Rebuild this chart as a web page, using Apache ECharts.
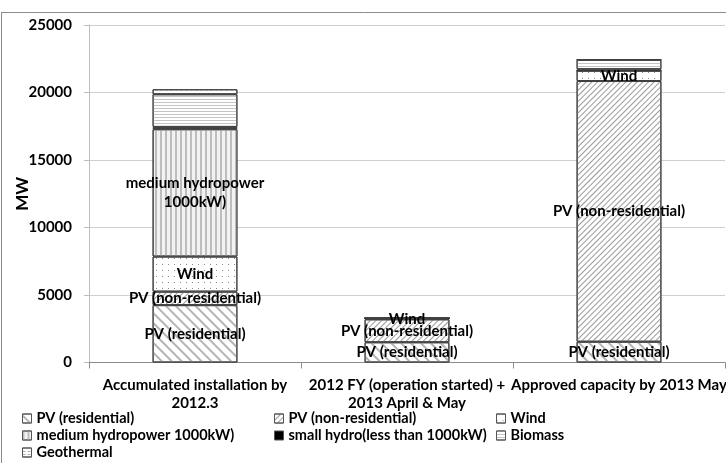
<!DOCTYPE html>
<html>
<head>
<meta charset="utf-8">
<script src="https://cdn.jsdelivr.net/npm/echarts@6/dist/echarts.min.js"></script>
<style>
  html, body { margin: 0; padding: 0; background: #fff; }
  #chart { width: 726px; height: 463px; }
</style>
</head>
<body>
<div id="chart"></div>
<script>
// Renewable capacity in Japan (MW), stacked by source
const categories = [
  'Accumulated installation by\n2012.3',
  '2012 FY (operation started) +\n2013 April & May',
  'Approved capacity by 2013 May'
];
const yTicks = [0, 5000, 10000, 15000, 20000, 25000];

const pvResidential    = [4250, 1500, 1540];
const pvNonResidential = [1000, 1700, 19310];
const wind             = [2600, 60, 770];
const mediumHydro      = [9430, 0, 0];
const smallHydro       = [170, 10, 100];
const biomass          = [2420, 30, 700];
const geothermal       = [370, 0, 20];

const FONT = 'Lato, "Open Sans", sans-serif';
const BORDER = '#404040';

function labelled(text) {
  return {
    show: true,
    position: 'inside',
    color: '#000',
    fontFamily: FONT,
    fontWeight: 'bold',
    fontSize: 15,
    lineHeight: 19,
    formatter: p => (p.value > 0 ? text : '')
  };
}

function barSeries(name, data, itemStyle, label) {
  return {
    name: name,
    type: 'bar',
    stack: 'total',
    barWidth: '40%',
    data: data,
    itemStyle: Object.assign({ borderColor: BORDER, borderWidth: 1 }, itemStyle),
    label: label || { show: false },
    emphasis: { disabled: true }
  };
}

const series = [
  barSeries('PV (residential)', pvResidential, {
    color: '#fff',
    decal: { symbol: 'rect', symbolSize: 1, color: '#b4b4b4',
             dashArrayX: [1, 0], dashArrayY: [2, 5], rotation: Math.PI / 4 }
  }, labelled('PV (residential)')),
  barSeries('PV (non-residential)', pvNonResidential, {
    color: '#fff',
    decal: { symbol: 'rect', symbolSize: 1, color: '#9a9a9a',
             dashArrayX: [1, 0], dashArrayY: [1, 3], rotation: -Math.PI / 4 }
  }, labelled('PV (non-residential)')),
  barSeries('Wind', wind, {
    color: '#fff',
    decal: { symbol: 'rect', symbolSize: 1, color: '#8a8a8a',
             dashArrayX: [1, 5], dashArrayY: [1, 5] }
  }, labelled('Wind')),
  barSeries('medium hydropower 1000kW)', mediumHydro, {
    color: '#f2f2f2',
    decal: { symbol: 'rect', symbolSize: 1, color: '#bdbdbd',
             dashArrayX: [2, 3], dashArrayY: [1, 0] }
  }, labelled('medium hydropower\n1000kW)')),
  barSeries('small hydro(less than 1000kW)', smallHydro, { color: '#000' }),
  barSeries('Biomass', biomass, {
    color: '#fff',
    decal: { symbol: 'rect', symbolSize: 1, color: '#c4c4c4',
             dashArrayX: [1, 0], dashArrayY: [1, 2] }
  }),
  barSeries('Geothermal', geothermal, {
    color: '#fff',
    decal: { symbol: 'rect', symbolSize: 1, color: '#b0b0b0',
             dashArrayX: [3, 2], dashArrayY: [1, 2] }
  })
];

// One legend entry per cell so the three columns line up like a table
const legendCols = [22, 274, 496];
const legendRows = [411, 428, 445];
const legendCells = [
  ['PV (residential)', 0, 0], ['PV (non-residential)', 1, 0], ['Wind', 2, 0],
  ['medium hydropower 1000kW)', 0, 1], ['small hydro(less than 1000kW)', 1, 1], ['Biomass', 2, 1],
  ['Geothermal', 0, 2]
];

function legendCell(cell) {
  return {
    left: legendCols[cell[1]],
    top: legendRows[cell[2]],
    padding: 0,
    itemWidth: 9,
    itemHeight: 9,
    itemTextGap: 2,
    selectedMode: false,
    icon: 'rect',
    itemStyle: { borderColor: '#555', borderWidth: 1 },
    textStyle: { fontFamily: FONT, fontWeight: 'bold', fontSize: 14.5,
                 color: '#000', lineHeight: 15 },
    data: [cell[0]]
  };
}

const chart = echarts.init(document.getElementById('chart'), null, { renderer: 'canvas' });
chart.setOption({
  animation: false,
  backgroundColor: '#fff',
  grid: { left: 89, right: 1, top: 25, bottom: 100.5, containLabel: false,
          outerBoundsMode: 'none' },
  xAxis: {
    type: 'category',
    data: categories,
    axisLine: { lineStyle: { color: '#8c8c8c', width: 1 } },
    axisTick: { show: true, length: 6, lineStyle: { color: '#8c8c8c' } },
    axisLabel: { color: '#000', fontFamily: FONT, fontWeight: 'bold', fontSize: 15,
                 lineHeight: 18, margin: 13.5, interval: 0 }
  },
  yAxis: {
    type: 'value',
    min: yTicks[0],
    max: yTicks[yTicks.length - 1],
    interval: yTicks[1] - yTicks[0],
    name: 'MW',
    nameLocation: 'middle',
    nameGap: 58,
    nameMoveOverlap: false,
    nameRotate: 90,
    nameTextStyle: { color: '#000', fontFamily: FONT, fontWeight: 'bold', fontSize: 17 },
    axisLine: { show: true, lineStyle: { color: '#bdbdbd' } },
    axisTick: { show: true, length: 5, lineStyle: { color: '#bdbdbd' } },
    axisLabel: { color: '#000', fontFamily: FONT, fontWeight: 'bold', fontSize: 15, margin: 17,
                 formatter: v => String(v) },
    splitLine: { lineStyle: { color: '#cfcfcf' } }
  },
  legend: legendCells.map(legendCell),
  graphic: [
    { type: 'line', shape: { x1: 1.5, y1: 12, x2: 1.5, y2: 463 },
      style: { stroke: '#8c8c8c', lineWidth: 1 } },
    { type: 'line', shape: { x1: 1, y1: 12.5, x2: 726, y2: 12.5 },
      style: { stroke: '#8c8c8c', lineWidth: 1 } }
  ],
  series: series
});
</script>
</body>
</html>
